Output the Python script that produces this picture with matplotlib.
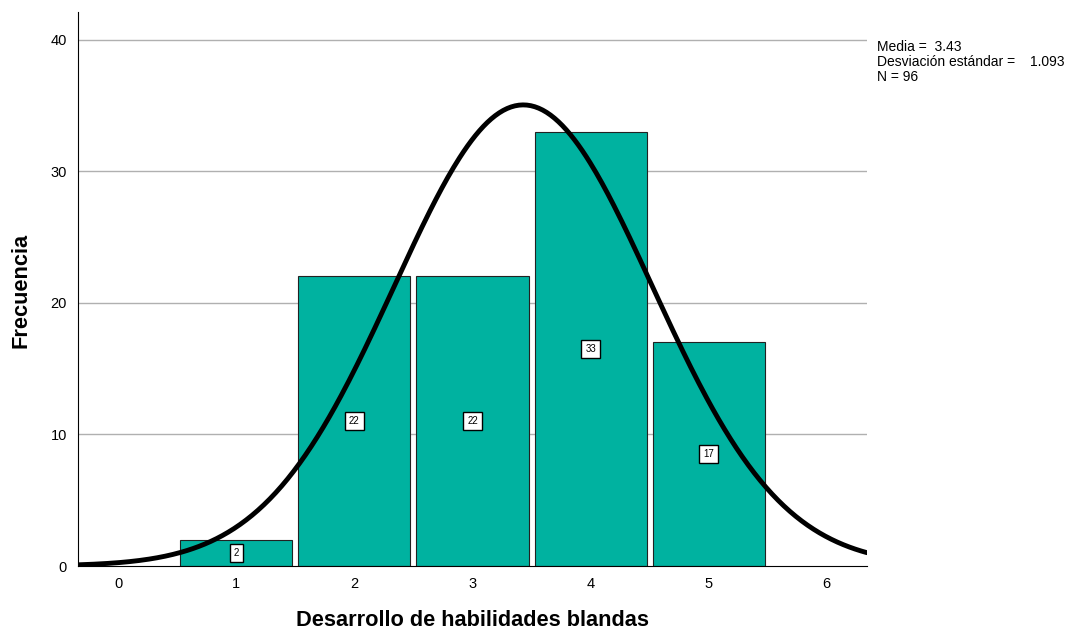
import numpy as np
import matplotlib
matplotlib.use("Agg")
import matplotlib.pyplot as plt

categories = [1, 2, 3, 4, 5]
counts = [2, 22, 22, 33, 17]
mean_val = 3.43
std_val = 1.093
n_val = 96
xticks = [0, 1, 2, 3, 4, 5, 6]
yticks = [0, 10, 20, 30, 40]

plt.rcParams['font.family'] = ['Liberation Sans', 'DejaVu Sans']

fig = plt.figure(figsize=(10.69, 6.31), dpi=100)
ax = fig.add_axes([0.073, 0.103, 0.738, 0.878])

ax.set_xlim(-0.34, 6.34)
ax.set_ylim(0, 42.1)
for y in yticks[1:]:
    ax.axhline(y, color='#b0b0b0', lw=1.0, zorder=0)

ax.bar(categories, counts, width=0.95, color='#00b2a0', edgecolor='#222222', lw=0.8, zorder=2)
for c, v in zip(categories, counts):
    ax.text(c, v / 2, str(v), ha='center', va='center', fontsize=7, zorder=5,
            bbox=dict(boxstyle='square,pad=0.4', fc='white', ec='black', lw=1.0))

xs = np.linspace(-0.34, 6.34, 400)
pdf = n_val * np.exp(-0.5 * ((xs - mean_val) / std_val) ** 2) / (std_val * np.sqrt(2 * np.pi))
ax.plot(xs, pdf, color='black', lw=3.5, zorder=4, solid_capstyle='round')

ax.set_xticks(xticks)
ax.set_yticks(yticks)
ax.tick_params(length=0, labelsize=10.5, pad=8)
for s in ['top', 'right']:
    ax.spines[s].set_visible(False)
ax.spines['left'].set_color('black')
ax.spines['bottom'].set_color('black')

fig.text(473 / 1069, 1 - 620 / 631, 'Desarrollo de habilidades blandas', fontsize=15.7,
         fontweight='bold', ha='center', va='center')
fig.text(21 / 1069, 1 - 290 / 631, 'Frecuencia', fontsize=15.7, fontweight='bold',
         ha='center', va='center', rotation=90)

fig.text(877 / 1069, 1 - 47 / 631, f'Media =  {mean_val:.2f}', fontsize=10, va='center')
fig.text(877 / 1069, 1 - 62 / 631, 'Desviación estándar =', fontsize=10, va='center')
fig.text(1030 / 1069, 1 - 62 / 631, f'{std_val:.3f}', fontsize=10, va='center')
fig.text(877 / 1069, 1 - 77 / 631, f'N = {n_val}', fontsize=10, va='center')

fig.savefig('out.png', dpi=100)
